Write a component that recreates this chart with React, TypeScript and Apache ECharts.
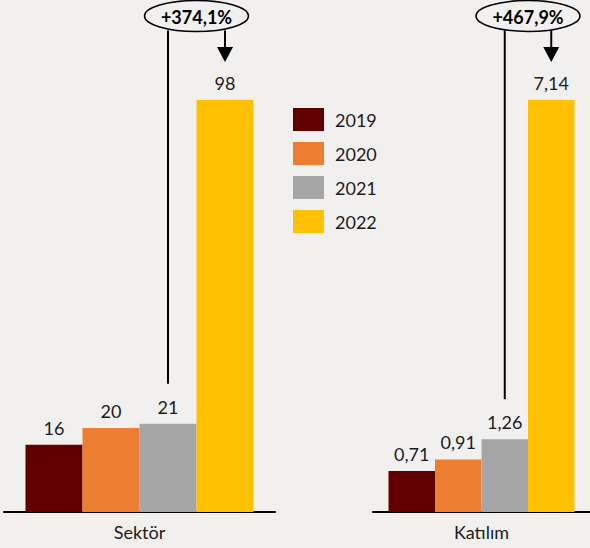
import React, { useEffect, useRef } from "react";
import * as echarts from "echarts";

const years = ["2019", "2020", "2021", "2022"];
const colors = ["#600000", "#ED7D31", "#A5A5A5", "#FFC000"];
const groups = ["Sektör", "Katılım"];
const sektorValues = [16, 20, 21, 98];
const katilimValues = [0.71, 0.91, 1.26, 7.14];
const changeLabels = ["+374,1%", "+467,9%"];

const FONT = "Lato, 'Open Sans', sans-serif";
const TEXT = "#1c1c1c";
const BG = "#f2f0ef";

const fmt = (v: number) => String(v).replace(".", ",");

export default function App() {
  const ref = useRef<HTMLDivElement>(null);
  useEffect(() => {
    if (!ref.current) return;
    const chart = echarts.init(ref.current, null, { renderer: "svg" });
    const barWidths = [57, 46.5];
    const allValues = [sektorValues, katilimValues];

    const series: any[] = [];
    allValues.forEach((vals, g) => {
      vals.forEach((v, i) => {
        series.push({
          type: "bar",
          name: years[i],
          xAxisIndex: g,
          yAxisIndex: g,
          data: [v],
          barWidth: barWidths[g],
          barGap: "0%",
          itemStyle: { color: colors[i] },
          label: {
            show: true,
            position: "top",
            distance: 8,
            formatter: (p: any) => fmt(p.value),
            fontFamily: FONT,
            fontSize: 18,
            color: TEXT,
          },
        });
      });
    });

    const xAxisBase = (g: number) => ({
      type: "category",
      gridIndex: g,
      data: [groups[g]],
      axisLine: { lineStyle: { color: "#000", width: 2 } },
      axisTick: { show: false },
      axisLabel: { fontFamily: FONT, fontSize: 18, color: TEXT, margin: 11 },
    });
    const yAxisBase = (g: number, max: number) => ({
      type: "value",
      gridIndex: g,
      min: 0,
      max,
      show: false,
      splitLine: { show: false },
    });

    chart.setOption({
      animation: false,
      backgroundColor: BG,
      grid: [
        { left: 4, width: 271, top: 100, height: 412 },
        { left: 373, width: 220, top: 100, height: 412 },
      ],
      xAxis: [xAxisBase(0), xAxisBase(1)],
      yAxis: [
        yAxisBase(0, Math.max(...sektorValues)),
        yAxisBase(1, Math.max(...katilimValues)),
      ],
      legend: {
        orient: "vertical",
        left: 293,
        top: 108,
        padding: 0,
        itemWidth: 31,
        itemHeight: 23,
        itemGap: 11,
        icon: "rect",
        data: years,
        textStyle: {
          fontFamily: FONT,
          fontSize: 18,
          color: TEXT,
          padding: [0, 0, 0, 6],
        },
      },
      series,
    });

    // annotations computed from axes
    const graphics: any[] = [];
    allValues.forEach((vals, g) => {
      const center = chart.convertToPixel({ xAxisIndex: g } as any, 0) as number;
      const bw = barWidths[g];
      const x21 = center + (2 - 1.5) * bw;
      const x22 = center + (3 - 1.5) * bw;
      const y21 = chart.convertToPixel({ yAxisIndex: g } as any, vals[2]) as number;
      const y22 = chart.convertToPixel({ yAxisIndex: g } as any, vals[3]) as number;
      const cx = (x21 + x22) / 2;
      const cy = 16;
      const rx = 52;
      const ry = 15.5;
      const bottom = cy + ry;
      const tip = y22 - 38;
      graphics.push(
        {
          type: "line",
          shape: { x1: x21, y1: bottom - 1, x2: x21, y2: y21 - 40 },
          style: { stroke: "#000", lineWidth: 2 },
        },
        {
          type: "line",
          shape: { x1: x22, y1: bottom - 1, x2: x22, y2: tip - 12 },
          style: { stroke: "#000", lineWidth: 2 },
        },
        {
          type: "polygon",
          shape: { points: [[x22 - 8, tip - 15], [x22 + 8, tip - 15], [x22, tip]] },
          style: { fill: "#000" },
        },
        {
          type: "ellipse",
          shape: { cx, cy, rx, ry },
          style: { fill: BG, stroke: "#000", lineWidth: 1.5 },
          z: 10,
        },
        {
          type: "text",
          x: cx,
          y: cy + 1,
          z: 11,
          style: {
            text: changeLabels[g],
            fontFamily: FONT,
            fontSize: 18,
            fontWeight: "bold",
            fill: "#000",
            align: "center",
            verticalAlign: "middle",
          },
        }
      );
    });
    chart.setOption({ graphic: graphics });

    return () => chart.dispose();
  }, []);
  return (
    <div
      ref={ref}
      style={{ position: "absolute", left: 0, top: 0, width: 590, height: 548 }}
    />
  );
}
